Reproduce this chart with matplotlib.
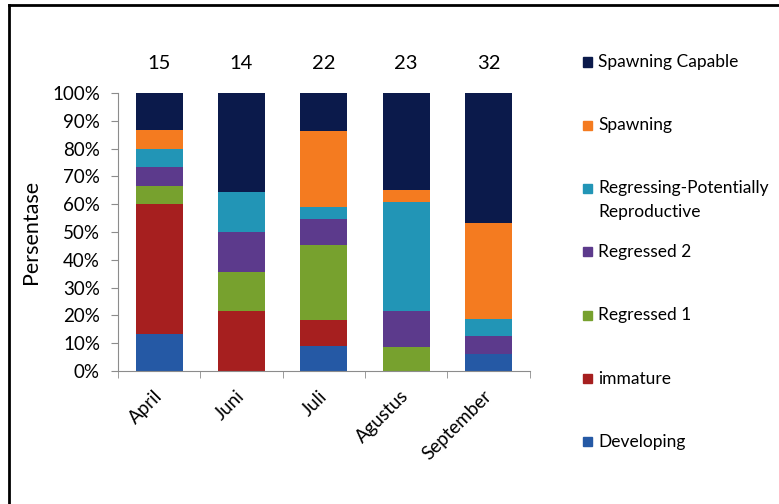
import matplotlib.pyplot as plt
from matplotlib.patches import Rectangle
from matplotlib.lines import Line2D
import numpy as np

plt.rcParams['font.family'] = ['Lato', 'DejaVu Sans']

bulan = ['April', 'Juni', 'Juli', 'Agustus', 'September']
jumlah = [15, 14, 22, 23, 32]

# jumlah ikan per tahap gonad (urutan dari bawah ke atas)
tahap = ['Developing', 'immature', 'Regressed 1', 'Regressed 2',
         'Regressing-Potentially\nReproductive', 'Spawning', 'Spawning Capable']
developing = [2, 0, 2, 0, 2]
immature = [7, 3, 2, 0, 0]
regressed1 = [1, 2, 6, 2, 0]
regressed2 = [1, 2, 2, 3, 2]
regressing = [1, 2, 1, 9, 2]
spawning = [1, 0, 6, 1, 11]
spawning_capable = [2, 5, 3, 8, 15]

warna = ['#2559a5', '#a61f1f', '#77a12e', '#5c3a8c', '#2295b6', '#f47b20', '#0b1a4b']

data = np.array([developing, immature, regressed1, regressed2,
                 regressing, spawning, spawning_capable], dtype=float)
persen = data / np.array(jumlah) * 100

fig = plt.figure(figsize=(7.79, 5.04), dpi=100)
ax = fig.add_axes([0.1515, 0.2639, 0.5285, 0.5516])

x = np.arange(len(bulan))
bawah = np.zeros(len(bulan))
for i in range(len(tahap)):
    ax.bar(x, persen[i], 0.57, bottom=bawah, color=warna[i])
    bawah += persen[i]

ax.set_xlim(-0.5, 4.5)
ax.set_ylim(0, 100)
ax.set_yticks(range(0, 101, 10))
ax.set_yticklabels([f'{v}%' for v in range(0, 101, 10)], fontsize=13.5)
ax.set_ylabel('Persentase', fontsize=15.5, labelpad=8)

ax.set_xticks(x)
ax.set_xticklabels(bulan, rotation=45, ha='right', va='center',
                   rotation_mode='anchor', fontsize=13.5)
ax.tick_params(axis='x', length=0, pad=16)
ax.set_xticks(np.arange(-0.5, 5, 1), minor=True)
ax.tick_params(axis='x', which='minor', length=5, color='#8c8c8c')
ax.tick_params(axis='y', length=5, color='#8c8c8c', pad=8)

for s in ['top', 'right']:
    ax.spines[s].set_visible(False)
for s in ['left', 'bottom']:
    ax.spines[s].set_color('#8c8c8c')

# jumlah sampel di atas batang
for xi, n in zip(x, jumlah):
    ax.text(xi, 110.5, str(n), ha='center', va='center', fontsize=14.5)

# legenda manual
y0 = 1 - 62 / 504
step = 63.3 / 504
for k in range(len(tahap)):
    j = len(tahap) - 1 - k
    y = y0 - k * step
    fig.add_artist(Rectangle((583 / 779, y - 4.5 / 504), 9 / 779, 9 / 504,
                             transform=fig.transFigure, color=warna[j]))
    if '\n' in tahap[j]:
        fig.text(598 / 779, y + 9 / 504, tahap[j], fontsize=12.5, va='top',
                 linespacing=1.65)
    else:
        fig.text(598 / 779, y, tahap[j], fontsize=12.5, va='center')

# bingkai kiri dan atas
fig.add_artist(Line2D([9 / 779, 9 / 779], [0, 1 - 5 / 504], color='black', lw=2,
                      transform=fig.transFigure))
fig.add_artist(Line2D([9 / 779, 1], [1 - 5 / 504, 1 - 5 / 504], color='black', lw=2,
                      transform=fig.transFigure))

plt.savefig('out.png', dpi=100)
